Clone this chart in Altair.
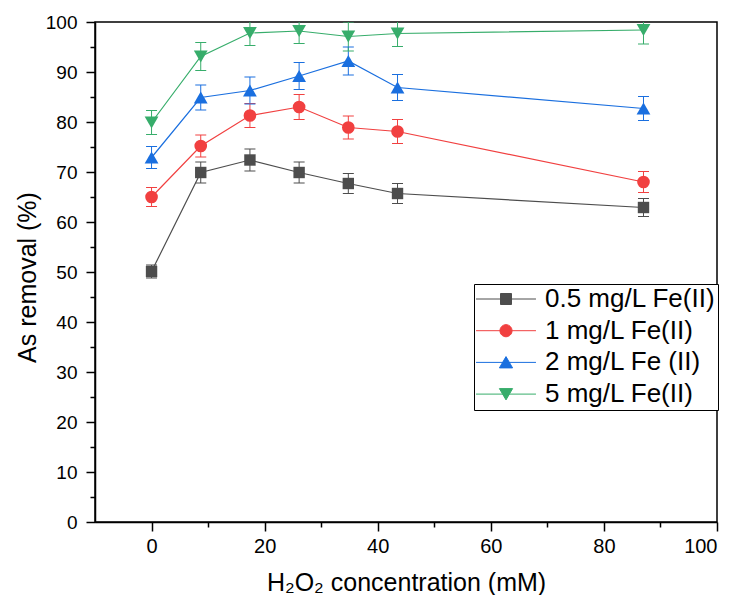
import altair as alt
import pandas as pd

# ---- data ----
conc = [0, 8.7, 17.4, 26.1, 34.8, 43.5, 87]
series_names = ["0.5 mg/L Fe(II)", "1 mg/L Fe(II)", "2 mg/L Fe (II)", "5 mg/L Fe(II)"]
val_05 = [50.1, 69.9, 72.4, 69.9, 67.7, 65.7, 62.9]
err_05 = [1.3, 2.1, 2.2, 2.1, 2.0, 2.0, 1.8]
val_1 = [65.0, 75.2, 81.3, 83.0, 78.9, 78.1, 68.0]
err_1 = [1.9, 2.2, 2.4, 2.5, 2.3, 2.4, 2.1]
val_2 = [72.9, 84.9, 86.3, 89.2, 92.2, 86.9, 82.7]
err_2 = [2.2, 2.5, 2.7, 2.7, 2.8, 2.6, 2.4]
val_5 = [79.9, 93.1, 97.8, 98.2, 97.1, 97.7, 98.4]
err_5 = [2.4, 2.8, 2.5, 2.5, 2.9, 2.6, 2.8]

colors = ["#4D4D4D", "#F14040", "#1A6FDF", "#37AD6B"]
shapes = ["square", "circle", "triangle-up", "triangle-down"]
marker_sizes = [130, 160, 190, 190]
# legend symbols: a short line with the marker in the middle
legend_paths = [
    "M-5.45,0H5.45M-1,-1H1V1H-1Z",
    "M-5.45,0H5.45M1.1,0A1.1,1.1,0,1,1,-1.1,0A1.1,1.1,0,1,1,1.1,0Z",
    "M-5.45,0H5.45M0,-1.05L1.2,1.0H-1.2Z",
    "M-5.45,0H5.45M0,1.05L1.2,-1.0H-1.2Z",
]

rows = []
for name, vals, errs in zip(series_names, [val_05, val_1, val_2, val_5],
                            [err_05, err_1, err_2, err_5]):
    for c, v, e in zip(conc, vals, errs):
        rows.append({"series": name, "conc": c, "val": v, "err": e})
df = pd.DataFrame(rows)

FONT = "Liberation Sans, Arial, sans-serif"

xscale = alt.Scale(domain=[-10, 100], nice=False, zero=False)
yscale = alt.Scale(domain=[0, 100], nice=False)

x_axis = alt.Axis(
    values=list(range(0, 101, 10)),
    labelExpr="datum.value % 20 === 0 ? datum.label : ''",
    tickSize={"condition": {"test": "datum.value % 20 === 0", "value": 9}, "value": 5},
    labelFontSize=20,
    labelPadding=5,
    title="H\u2082O\u2082 concentration (mM)",
    titleFontSize=25,
    titleFontWeight="normal",
    titleY=68,
    titleBaseline="alphabetic",
)
y_axis = alt.Axis(
    values=list(range(0, 101, 5)),
    labelExpr="datum.value % 10 === 0 ? datum.label : ''",
    tickSize={"condition": {"test": "datum.value % 10 === 0", "value": 9}, "value": 5},
    labelFontSize=19,
    labelPadding=9,
    title="As removal (%)",
    titleFontSize=25,
    titleFontWeight="normal",
    titleAngle=-90,
    titleX=-60,
    titleY=255,
    titleAlign="center",
    titleBaseline="alphabetic",
)

X = alt.X("conc:Q", scale=xscale, axis=x_axis)


def Y(field):
    return alt.Y(field, type="quantitative", scale=yscale, axis=y_axis)


# colour scale with a data-driven domain (sorted order = series order)
cscale = alt.Scale(range=colors)
color_enc = alt.Color("series:N", scale=cscale, legend=None)

base = alt.Chart(df)

lines = base.mark_line(strokeWidth=1.2).encode(x=X, y=Y("val"), color=color_enc)

err_base = base.transform_calculate(lo="datum.val - datum.err", hi="datum.val + datum.err")
err_rules = err_base.mark_rule(strokeWidth=1, clip=True).encode(
    x=X, y=Y("lo"), y2="hi:Q", color=color_enc
)
err_caps = err_base.transform_fold(["lo", "hi"], as_=["end", "yv"]).mark_tick(
    orient="horizontal", size=11, thickness=1, opacity=1, clip=True
).encode(x=X, y=Y("yv"), color=color_enc)

point_layers = []
for name, col, shp, sz in zip(series_names, colors, shapes, marker_sizes):
    point_layers.append(
        base.transform_filter(alt.datum.series == name)
        .mark_point(shape=shp, filled=True, size=sz, opacity=1, color=col)
        .encode(x=X, y=Y("val"))
    )

leg = alt.Legend(
    orient="none",
    legendX=379,
    legendY=262,
    title=None,
    labelFont=FONT,
    labelFontSize=26,
    labelColor="black",
    labelLimit=0,
    symbolSize=121,
    symbolStrokeWidth=1,
    symbolOpacity=1,
    symbolOffset=17,
    labelOffset=26,
    padding=2,
    rowPadding=5.7,
    strokeColor="black",
    fillColor="white",
)
# invisible layer that only carries the legend (line + marker symbols)
legend_layer = base.mark_point(filled=True, size=121, opacity=0).encode(
    x=X,
    y=Y("val"),
    fill=alt.Fill("series:N", scale=alt.Scale(domain=series_names, range=colors), legend=leg),
    stroke=alt.Stroke("series:N", scale=alt.Scale(domain=series_names, range=colors), legend=leg),
    shape=alt.Shape("series:N", scale=alt.Scale(domain=series_names, range=legend_paths), legend=leg),
)

chart = alt.layer(lines, err_rules, err_caps, *point_layers, legend_layer).properties(
    width=622,
    height=500,
    autosize=alt.AutoSizeParams(type="none"),
    padding={"left": 87, "top": 14, "right": 12, "bottom": 73},
).configure_view(
    stroke="black", strokeWidth=1.5
).configure_axis(
    grid=False,
    domainColor="black",
    domainWidth=1.5,
    tickColor="black",
    tickWidth=1.5,
    labelColor="black",
    titleColor="black",
    labelFont=FONT,
    titleFont=FONT,
)

chart.save("out.html", embed_options={"renderer": "svg", "actions": False})
